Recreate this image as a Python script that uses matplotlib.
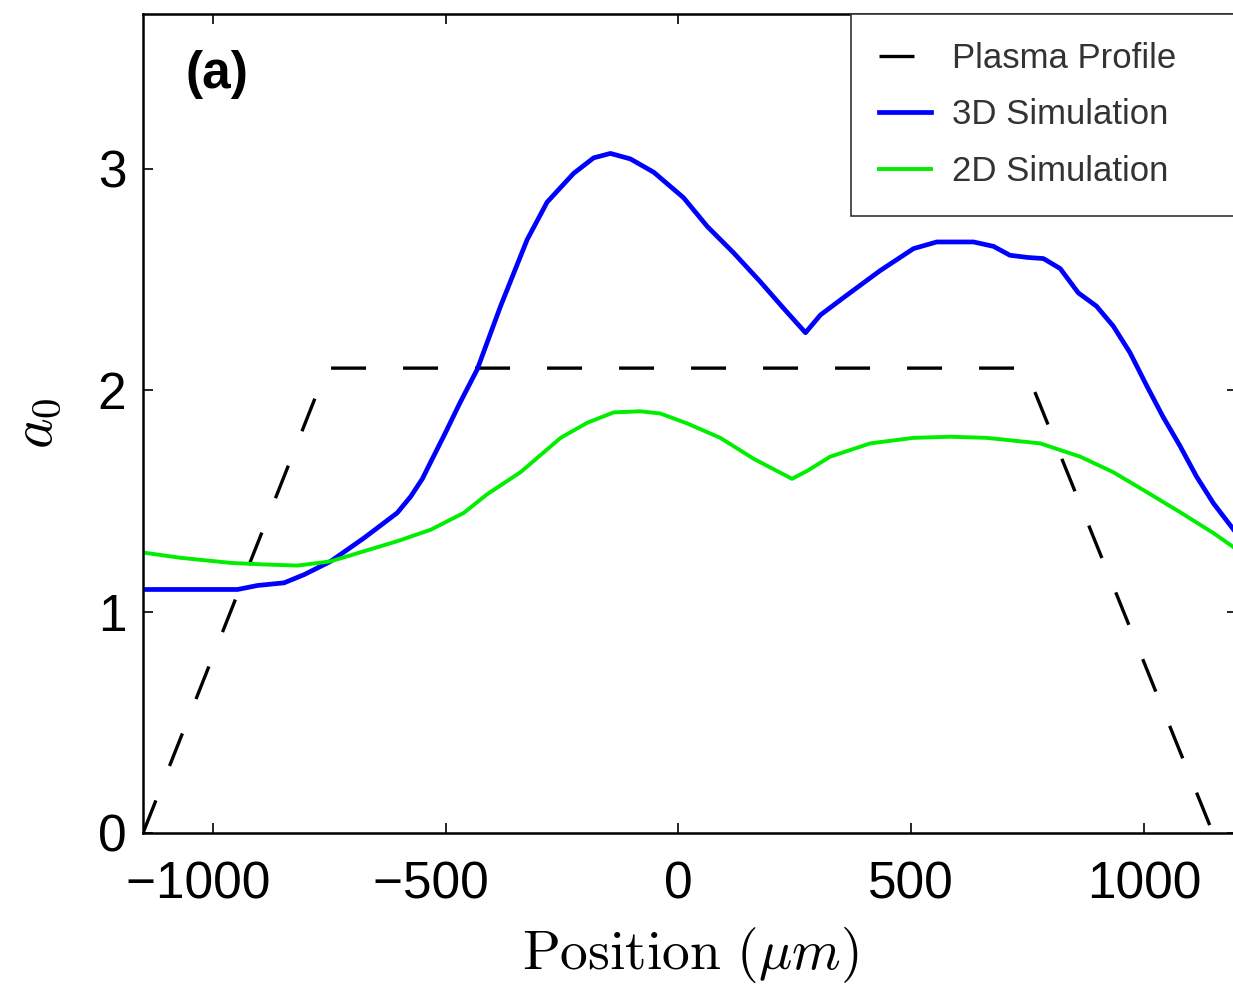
import matplotlib
matplotlib.use("Agg")
import matplotlib.pyplot as plt
from matplotlib.ticker import FuncFormatter

plt.rcParams['font.family'] = ['Liberation Sans', 'DejaVu Sans']
plt.rcParams['mathtext.fontset'] = 'cm'

# plasma profile (trapezoid)
x_plasma = [-1150, -755, 745, 1148]
y_plasma = [0, 2.1, 2.1, 0]

# 3D simulation
x3d = [-1148, -1033, -947, -904, -847, -804, -747, -675, -604, -575, -550, -532, -500,
       -470, -432, -382, -325, -282, -225, -182, -146, -103, -53, 11, 62, 119,
       176, 226, 273, 305, 362, 433, 505, 555, 634, 677, 712, 750, 784, 820,
       859, 898, 934, 970, 1006, 1041, 1077, 1113, 1149, 1200]
y3d = [1.10, 1.10, 1.10, 1.118, 1.13, 1.167, 1.227, 1.333, 1.446, 1.52, 1.60, 1.676, 1.81,
       1.94, 2.095, 2.38, 2.68, 2.85, 2.98, 3.05, 3.07, 3.045, 2.985, 2.87, 2.74, 2.62,
       2.49, 2.37, 2.26, 2.34, 2.43, 2.54, 2.64, 2.67, 2.67, 2.65, 2.61, 2.60, 2.595, 2.55,
       2.44, 2.38, 2.29, 2.17, 2.02, 1.88, 1.75, 1.61, 1.49, 1.35]

# 2D simulation
x2d = [-1147, -1069, -961, -890, -818, -747, -675, -604, -532, -461, -411, -339,
       -253, -196, -139, -82, -39, 19, 90, 162, 244, 276, 326, 412, 505, 584, 662,
       777, 863, 934, 1006, 1077, 1149, 1200]
y2d = [1.266, 1.243, 1.22, 1.213, 1.208, 1.227, 1.273, 1.318, 1.37, 1.446, 1.53, 1.63,
       1.785, 1.853, 1.90, 1.905, 1.895, 1.85, 1.785, 1.69, 1.60, 1.635, 1.70, 1.76, 1.785,
       1.79, 1.785, 1.76, 1.70, 1.63, 1.54, 1.45, 1.355, 1.28]

xticks = [-1000, -500, 0, 500, 1000]
yticks = [0, 1, 2, 3]


def xfmt(v, pos):
    # digits centred on the tick, minus sign hanging out to the left
    s = '%d' % v
    if v < 0:
        s = '\u2212' + s[1:] + '\u2007'
    return s


fig = plt.figure(figsize=(12.33, 9.84), dpi=100)
ax = fig.add_axes([0.116, 0.1535, 0.8873, 0.8323])

ax.plot(x_plasma, y_plasma, color='black', lw=2.4, dashes=(10.5, 11.1),
        label='Plasma Profile')
ax.plot(x3d, y3d, color='#0000ff', lw=3.4, label='3D Simulation')
ax.plot(x2d, y2d, color='#00ee00', lw=2.8, label='2D Simulation')

ax.set_xlim(-1150, 1200)
ax.set_ylim(0, 3.7)
ax.set_xticks(xticks)
ax.set_yticks(yticks)
ax.xaxis.set_major_formatter(FuncFormatter(xfmt))
ax.tick_params(direction='in', length=7, width=1.2, top=True, right=True,
               labelsize=37, colors='black')
ax.tick_params(axis='x', pad=20)
ax.tick_params(axis='y', pad=12)
for s in ax.spines.values():
    s.set_linewidth(1.8)

ax.set_xlabel(r'$\mathrm{Position}\ (\mu m)$', fontsize=40, labelpad=11)
ax.set_ylabel(r'$a_0$', fontsize=42, labelpad=24)

ax.text(0.0384, 0.9255, '(a)', transform=ax.transAxes, fontsize=37,
        fontweight='bold', ha='left', va='center')

leg = ax.legend(loc='upper left', bbox_to_anchor=(0.6472, 0.0, 0.3528, 1.0),
                mode='expand', borderaxespad=0, fontsize=25, fancybox=False,
                edgecolor='#333333', framealpha=1, handlelength=1.5,
                handletextpad=0.62, labelspacing=0.68, borderpad=0.8)
leg.get_frame().set_linewidth(1.2)
for t in leg.get_texts():
    t.set_color('#333333')

fig.savefig('out.png', dpi=100)
